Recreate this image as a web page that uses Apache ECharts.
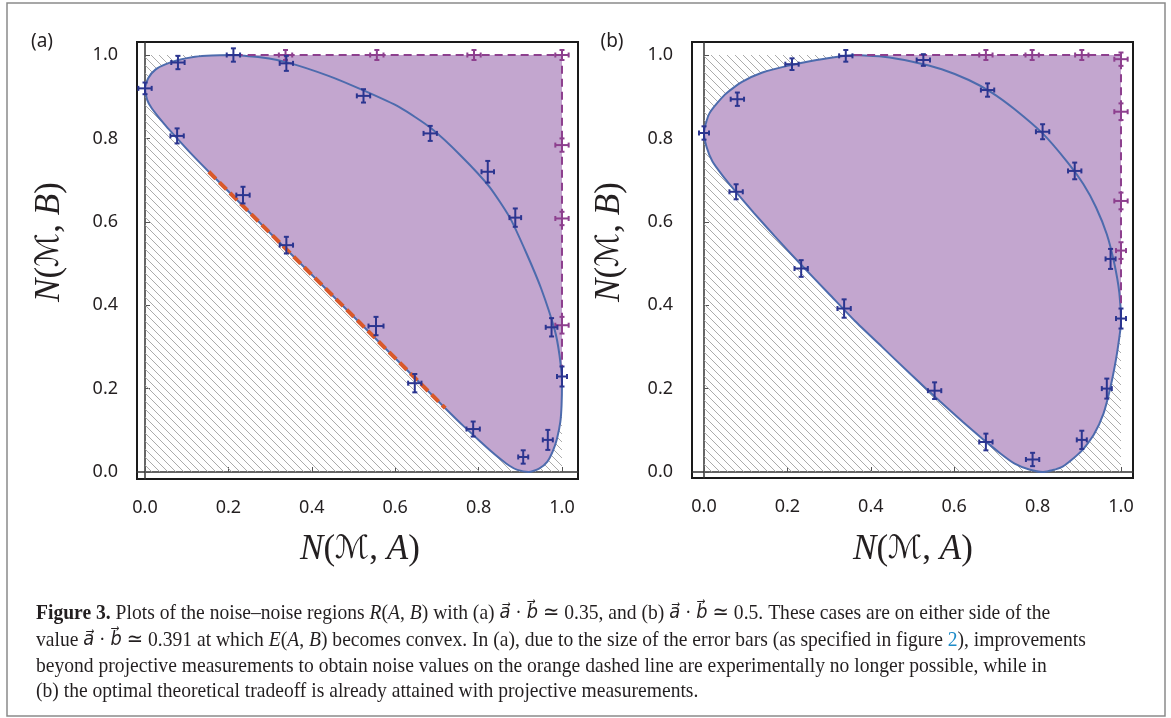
<!DOCTYPE html>
<html>
<head>
<meta charset="utf-8">
<script src="https://cdn.jsdelivr.net/npm/echarts@6/dist/echarts.min.js"></script>
<style>
  html, body { margin: 0; padding: 0; background: #fff; }
  #chart { width: 1171px; height: 718px; }
</style>
</head>
<body>
<div id="chart"></div>
<script>
// ---- panel (a): a.b ~ 0.35 ----
// boundary, lower-left chain: from top tangent, round the left, along the bottom, to the right tangent
const aLowX = [0.215, 0.16, 0.12, 0.08, 0.05, 0.025, 0.008, 0.0, 0.005, 0.015, 0.03, 0.05, 0.077, 0.11, 0.153, 0.72, 0.764, 0.8, 0.83, 0.854, 0.874, 0.893, 0.92, 0.945, 0.965, 0.978, 0.988, 0.996, 0.999, 1.0]
const aLowY = [1.0, 0.999, 0.996, 0.988, 0.978, 0.965, 0.945, 0.92, 0.893, 0.874, 0.854, 0.83, 0.8, 0.764, 0.72, 0.153, 0.11, 0.077, 0.05, 0.03, 0.015, 0.005, 0.0, 0.008, 0.025, 0.05, 0.08, 0.12, 0.16, 0.215]
// boundary, upper-right arc back to the top tangent
const aUpX = [0.994, 0.983, 0.95, 0.915, 0.875, 0.826, 0.758, 0.684, 0.61, 0.524, 0.44, 0.339, 0.28]
const aUpY = [0.28, 0.339, 0.44, 0.524, 0.61, 0.684, 0.758, 0.826, 0.875, 0.915, 0.95, 0.983, 0.994]
const aOrangeX = [0.153, 0.72]
const aOrangeY = [0.72, 0.153]
const aCornerX = [0.215, 1.0, 1.0]
const aCornerY = [1.0, 1.0, 0.215]
const aBlueX = [0.0, 0.079, 0.212, 0.339, 0.524, 0.684, 0.822, 0.888, 0.077, 0.235, 0.339, 0.554, 0.647, 0.787, 0.907, 0.966, 1.0, 0.975]
const aBlueY = [0.92, 0.982, 1.0, 0.98, 0.902, 0.812, 0.72, 0.61, 0.806, 0.664, 0.544, 0.35, 0.213, 0.103, 0.036, 0.077, 0.229, 0.347]
const aBlueEx = [0.016, 0.016, 0.016, 0.016, 0.016, 0.016, 0.015, 0.014, 0.016, 0.016, 0.016, 0.018, 0.016, 0.016, 0.012, 0.012, 0.012, 0.014]
const aBlueEy = [0.014, 0.016, 0.016, 0.018, 0.016, 0.018, 0.026, 0.022, 0.018, 0.02, 0.02, 0.022, 0.022, 0.018, 0.016, 0.024, 0.024, 0.022]
const aPurpX = [0.337, 0.556, 0.789, 1.0, 1.0, 1.0, 1.0]
const aPurpY = [1.0, 1.0, 1.0, 1.0, 0.784, 0.608, 0.352]
const aPurpEx = [0.016, 0.016, 0.016, 0.016, 0.016, 0.016, 0.016]
const aPurpEy = [0.012, 0.012, 0.012, 0.012, 0.016, 0.016, 0.02]

// ---- panel (b): a.b ~ 0.5 ----
const bLowX = [0.36, 0.33, 0.27, 0.2, 0.14, 0.09, 0.05, 0.013, 0.0, 0.006, 0.02, 0.045, 0.077, 0.12, 0.17, 0.233, 0.3, 0.362, 0.427, 0.497, 0.565, 0.621, 0.671, 0.71, 0.745, 0.78, 0.813, 0.86, 0.905, 0.935, 0.958, 0.974, 0.988, 0.997, 1.0]
const bLowY = [1.0, 0.997, 0.988, 0.974, 0.958, 0.935, 0.905, 0.86, 0.813, 0.78, 0.745, 0.71, 0.671, 0.621, 0.565, 0.497, 0.427, 0.362, 0.3, 0.233, 0.17, 0.12, 0.077, 0.045, 0.02, 0.006, 0.0, 0.013, 0.05, 0.09, 0.14, 0.2, 0.27, 0.33, 0.36]
const bUpX = [0.996, 0.984, 0.966, 0.94, 0.91, 0.87, 0.812, 0.745, 0.69, 0.635, 0.57, 0.5, 0.43]
const bUpY = [0.43, 0.5, 0.57, 0.635, 0.69, 0.745, 0.812, 0.87, 0.91, 0.94, 0.966, 0.984, 0.996]
const bCornerX = [0.36, 1.0, 1.0]
const bCornerY = [1.0, 1.0, 0.36]
const bBlueX = [0.0, 0.08, 0.211, 0.34, 0.526, 0.68, 0.812, 0.889, 0.077, 0.233, 0.336, 0.553, 0.676, 0.788, 0.906, 0.966, 1.0, 0.975]
const bBlueY = [0.813, 0.894, 0.978, 0.998, 0.988, 0.916, 0.816, 0.722, 0.672, 0.488, 0.392, 0.195, 0.072, 0.03, 0.077, 0.2, 0.368, 0.511]
const bBlueEx = [0.012, 0.016, 0.016, 0.016, 0.016, 0.016, 0.016, 0.016, 0.016, 0.016, 0.016, 0.016, 0.016, 0.016, 0.012, 0.012, 0.012, 0.012]
const bBlueEy = [0.016, 0.016, 0.014, 0.014, 0.014, 0.016, 0.018, 0.02, 0.018, 0.02, 0.022, 0.02, 0.02, 0.016, 0.022, 0.024, 0.024, 0.024]
const bPurpX = [0.676, 0.787, 0.906, 1.0, 1.0, 1.0, 1.0]
const bPurpY = [1.0, 1.0, 1.0, 0.99, 0.864, 0.65, 0.531]
const bPurpEx = [0.016, 0.016, 0.016, 0.016, 0.016, 0.016, 0.012]
const bPurpEy = [0.012, 0.012, 0.012, 0.016, 0.02, 0.02, 0.02]

const tickLabels = ['0.0', '0.2', '0.4', '0.6', '0.8', '1.0']

const captionLines = [
  '{b|Figure 3.} Plots of the noise\u2013noise regions {i|R}({i|A}, {i|B}) with (a) {v|a\u20D7} \u00B7 {v|b\u20D7} \u2243 0.35, and (b) {v|a\u20D7} \u00B7 {v|b\u20D7} \u2243 0.5. These cases are on either side of the',
  'value {v|a\u20D7} \u00B7 {v|b\u20D7} \u2243 0.391 at which {i|E}({i|A}, {i|B}) becomes convex. In (a), due to the size of the error bars (as specified in figure {c|2}), improvements',
  'beyond projective measurements to obtain noise values on the orange dashed line are experimentally no longer possible, while in',
  '(b) the optimal theoretical tradeoff is already attained with projective measurements.'
]

const FILL = '#c3a6cf'
const CURVE = '#4d6bad'
const NAVY = '#2b3590'
const PLUM = '#8d3f8e'
const ORANGE = '#d9592a'
const SERIF = '"Liberation Serif", "DejaVu Serif", serif'

// diagonal hatching tile
const HS = 8
const hatch = document.createElement('canvas')
hatch.width = HS
hatch.height = HS
const hctx = hatch.getContext('2d')
hctx.strokeStyle = '#a2a2a2'
hctx.lineWidth = 0.9
for (const k of [-1, 0, 1]) {
  hctx.beginPath()
  hctx.moveTo(k * HS, 0)
  hctx.lineTo(k * HS + HS, HS)
  hctx.stroke()
}

const zip = (xs, ys) => xs.map((x, i) => [x, ys[i]])

const hatchSeries = (g) => ({
  type: 'custom', xAxisIndex: g, yAxisIndex: g, z: 1, silent: true,
  data: [[0, 0, 1, 1]],
  renderItem: (params, api) => {
    const p0 = api.coord([api.value(0), api.value(3)])
    const p1 = api.coord([api.value(2), api.value(1)])
    return {
      type: 'rect',
      shape: { x: p0[0], y: p0[1], width: p1[0] - p0[0], height: p1[1] - p0[1] },
      style: { fill: { image: hatch, repeat: 'repeat' }, stroke: null }
    }
  }
})

const regionSeries = (g, lx, ly, cx, cy) => ({
  type: 'custom', xAxisIndex: g, yAxisIndex: g, z: 2, silent: true,
  data: [[cx[1], cy[1]]],
  renderItem: (params, api) => {
    const pts = lx.map((x, i) => api.coord([x, ly[i]]))
    pts.push(api.coord([api.value(0), api.value(1)]))
    return { type: 'polygon', shape: { points: pts }, style: { fill: FILL, stroke: null } }
  }
})

const lineSeries = (g, data, color, width, type, z, smooth) => ({
  type: 'line', xAxisIndex: g, yAxisIndex: g, z: z, silent: true,
  data: data, showSymbol: false, symbol: 'none', smooth: smooth || false,
  lineStyle: { color: color, width: width, type: type }
})

const crossSeries = (g, xs, ys, ex, ey, color) => ({
  type: 'custom', xAxisIndex: g, yAxisIndex: g, z: 10, silent: true,
  data: xs.map((x, i) => [x, ys[i], ex[i], ey[i]]),
  renderItem: (params, api) => {
    const x = api.value(0), y = api.value(1), dx = api.value(2), dy = api.value(3)
    const l = api.coord([x - dx, y]), r = api.coord([x + dx, y])
    const t = api.coord([x, y + dy]), b = api.coord([x, y - dy])
    const c = 2.5
    const st = { stroke: color, lineWidth: 2 }
    const seg = (x1, y1, x2, y2) => ({ type: 'line', shape: { x1, y1, x2, y2 }, style: st })
    return {
      type: 'group',
      children: [
        seg(l[0], l[1], r[0], r[1]),
        seg(t[0], t[1], b[0], b[1]),
        seg(l[0], l[1] - c, l[0], l[1] + c),
        seg(r[0], r[1] - c, r[0], r[1] + c),
        seg(t[0] - c, t[1], t[0] + c, t[1]),
        seg(b[0] - c, b[1], b[0] + c, b[1])
      ]
    }
  }
})

const valueAxis = (g, min, max, margin) => ({
  type: 'value', gridIndex: g, min: min, max: max, splitNumber: 5,
  axisLine: { show: true, onZero: true, lineStyle: { color: '#333', width: 1.5 } },
  axisTick: { show: true, inside: true, length: 5, lineStyle: { color: '#555', width: 1 } },
  axisLabel: {
    margin: margin, showMinLabel: false, showMaxLabel: false,
    color: '#231f20', fontFamily: '"Noto Sans", "Open Sans", sans-serif', fontSize: 18,
    formatter: (v) => tickLabels[Math.round(v * 5)] || ''
  },
  splitLine: { show: false }
})

const titleText = (letter) => '{i|N}{n|(}{m|\u2133}{n|, }{i|' + letter + '}{n|)}'
const titleRich = {
  i: { fontFamily: SERIF, fontStyle: 'italic', fontSize: 35, fill: '#231f20' },
  n: { fontFamily: SERIF, fontSize: 35, fill: '#231f20' },
  m: { fontFamily: '"DejaVu Serif", "DejaVu Sans", serif', fontStyle: 'italic', fontSize: 32, fill: '#231f20' }
}
const title = (x, y, letter, rot) => ({
  type: 'text', x: x, y: y, rotation: rot || 0, silent: true,
  style: { text: titleText(letter), rich: titleRich, align: 'center', verticalAlign: 'middle', fill: '#231f20' }
})

const CAP = 22
const capRich = {
  b: { fontFamily: SERIF, fontWeight: 'bold', fontSize: CAP, fill: '#231f20' },
  i: { fontFamily: SERIF, fontStyle: 'italic', fontSize: CAP, fill: '#231f20' },
  v: { fontFamily: '"DejaVu Sans", sans-serif', fontStyle: 'italic', fontSize: CAP - 2, fill: '#231f20' },
  c: { fontFamily: SERIF, fontSize: CAP, fill: '#1b8ac8' }
}
const captionY = [613, 640, 666, 691]

const chart = echarts.init(document.getElementById('chart'))
chart.setOption({
  animation: false,
  backgroundColor: '#fff',
  grid: [
    { left: 137, top: 42, width: 441, height: 437, show: true, borderColor: '#1a1a1a', borderWidth: 2, backgroundColor: '#fff', containLabel: false },
    { left: 692, top: 42, width: 441, height: 436, show: true, borderColor: '#1a1a1a', borderWidth: 2, backgroundColor: '#fff', containLabel: false }
  ],
  xAxis: [valueAxis(0, -0.0192, 1.0384, 20), valueAxis(1, -0.0288, 1.0288, 20)],
  yAxis: [valueAxis(0, -0.0168, 1.0312, 19), valueAxis(1, -0.0144, 1.0312, 19)],
  series: [
    hatchSeries(0),
    regionSeries(0, aLowX, aLowY, aCornerX, aCornerY),
    lineSeries(0, zip(aLowX, aLowY).concat(zip(aUpX, aUpY), [[aLowX[0], aLowY[0]]]), CURVE, 2, 'solid', 4, 0.2),
    lineSeries(0, zip(aOrangeX, aOrangeY), ORANGE, 4, [10, 5], 5),
    lineSeries(0, zip(aCornerX, aCornerY), PLUM, 2, [8, 5], 5),
    crossSeries(0, aPurpX, aPurpY, aPurpEx, aPurpEy, PLUM),
    crossSeries(0, aBlueX, aBlueY, aBlueEx, aBlueEy, NAVY),

    hatchSeries(1),
    regionSeries(1, bLowX, bLowY, bCornerX, bCornerY),
    lineSeries(1, zip(bLowX, bLowY).concat(zip(bUpX, bUpY), [[bLowX[0], bLowY[0]]]), CURVE, 2, 'solid', 4, 0.2),
    lineSeries(1, zip(bCornerX, bCornerY), PLUM, 2, [8, 5], 5),
    crossSeries(1, bPurpX, bPurpY, bPurpEx, bPurpEy, PLUM),
    crossSeries(1, bBlueX, bBlueY, bBlueEx, bBlueEy, NAVY)
  ],
  graphic: [
    { type: 'rect', silent: true, shape: { x: 7, y: 3, width: 1158, height: 713 }, style: { fill: null, stroke: '#8a8a8a', lineWidth: 1.5 } },
    { type: 'text', x: 42, y: 42, silent: true, style: { text: '(a)', font: '19px "Noto Sans", sans-serif', fill: '#231f20', align: 'center', verticalAlign: 'middle' } },
    { type: 'text', x: 612, y: 42, silent: true, style: { text: '(b)', font: '19px "Noto Sans", sans-serif', fill: '#231f20', align: 'center', verticalAlign: 'middle' } },
    title(360, 550, 'A'),
    title(913, 550, 'A'),
    title(50, 242, 'B', Math.PI / 2),
    title(610, 242, 'B', Math.PI / 2)
  ].concat(captionLines.map((line, i) => ({
    type: 'text', x: 36, y: captionY[i], scaleX: 0.89, silent: true,
    style: { text: line, rich: capRich, font: CAP + 'px ' + SERIF, fill: '#231f20', verticalAlign: 'middle' }
  })))
})
</script>
</body>
</html>
